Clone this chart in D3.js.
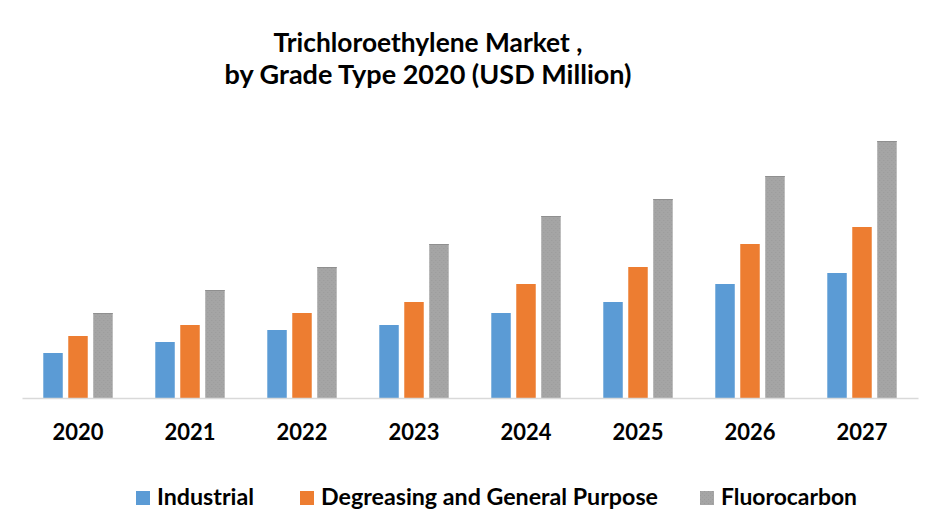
<!DOCTYPE html>
<html>
<head>
<meta charset="utf-8">
<script src="https://cdn.jsdelivr.net/npm/d3@7/dist/d3.min.js"></script>
<style>
  html, body { margin: 0; padding: 0; background: #fff; }
  svg { display: block; }
  text { font-family: Lato, "Open Sans", sans-serif; font-weight: bold; fill: #000; }
</style>
</head>
<body>
<svg id="chart" width="941" height="515"></svg>
<script>
const titleLines = ["Trichloroethylene Market ,", "by Grade Type 2020 (USD Million)"];
const years = ["2020", "2021", "2022", "2023", "2024", "2025", "2026", "2027"];
const seriesNames = ["Industrial", "Degreasing and General Purpose", "Fluorocarbon"];
const industrial = [45, 56, 68, 73, 85, 96, 114, 125];
const degreasing = [62, 73, 85, 96, 114, 131, 154, 171];
const fluorocarbon = [85, 108, 131, 154, 182, 199, 222, 257];
const seriesColors = ["#5b9bd5", "#ed7d31", "url(#grayDots)"];

const seriesValues = [industrial, degreasing, fluorocarbon];
const data = years.map((y, i) => ({ year: y, values: seriesValues.map(s => s[i]) }));

const svg = d3.select("#chart");

// pattern for gray textured bars
const defs = svg.append("defs");
const pat = defs.append("pattern").attr("id", "grayDots")
  .attr("patternUnits", "userSpaceOnUse").attr("width", 4).attr("height", 4);
pat.append("rect").attr("width", 4).attr("height", 4).attr("fill", "#a5a5a5");
pat.append("rect").attr("x", 0).attr("y", 0).attr("width", 1).attr("height", 1).attr("fill", "#9a9a9a");
pat.append("rect").attr("x", 2).attr("y", 2).attr("width", 1).attr("height", 1).attr("fill", "#9d9d9d");

const baseY = 398;
const x0 = d3.scaleBand().domain(years).range([22, 918]).paddingInner(0.38).paddingOuter(0.19);
const x1 = d3.scaleBand().domain(seriesNames).range([0, x0.bandwidth()]).paddingInner(0.22);
const y = d3.scaleLinear().domain([0, 300]).range([baseY, baseY - 300]);

// Title
const titleSizes = [24, 24];
const titleTargets = [309, 407];
const titleBase = [52, 84];
titleLines.forEach((t, i) => {
  const el = svg.append("text").attr("x", 428).attr("y", titleBase[i])
    .attr("text-anchor", "middle").style("font-size", titleSizes[i] + "px").text(t);
  const w = el.node().getComputedTextLength();
  el.style("font-size", (titleSizes[i] * titleTargets[i] / w).toFixed(2) + "px");
});

// Bars
const groups = svg.append("g").selectAll("g").data(data).join("g")
  .attr("transform", d => `translate(${x0(d.year)},0)`);
groups.selectAll("rect").data(d => d.values.map((v, k) => ({ k, v }))).join("rect")
  .attr("x", d => x1(seriesNames[d.k]))
  .attr("width", x1.bandwidth())
  .attr("y", d => y(d.v))
  .attr("height", d => baseY - y(d.v))
  .attr("fill", d => seriesColors[d.k]);
// darker top edge on gray bars
groups.selectAll("line.top").data(d => [d.values[2]]).join("line")
  .attr("class", "top")
  .attr("x1", x1(seriesNames[2])).attr("x2", x1(seriesNames[2]) + x1.bandwidth())
  .attr("y1", d => y(d) + 0.5).attr("y2", d => y(d) + 0.5)
  .attr("stroke", "#8f8f8f").attr("stroke-width", 1);

// X axis
const xAxis = d3.axisBottom(x0).tickSize(0).tickPadding(26);
const ax = svg.append("g").attr("transform", `translate(0,${baseY})`).call(xAxis);
ax.select(".domain").attr("stroke", "#d9d9d9").attr("stroke-width", 1.3);
ax.selectAll("text").style("font-size", "22px")
  .style("font-family", "Lato, 'Open Sans', sans-serif").style("font-weight", "bold").attr("fill", "#000");

// Legend
const legendX = [136, 300, 700];
const legendY = 491;
const leg = svg.append("g").selectAll("g").data(seriesNames).join("g")
  .attr("transform", (d, i) => `translate(${legendX[i]},${legendY})`);
leg.append("rect").attr("width", 14).attr("height", 14).attr("fill", (d, i) => seriesColors[i]);
const legTargets = [97, 337, 136];
leg.append("text").attr("x", 21).attr("y", 14).style("font-size", "22px").text(d => d)
  .each(function(d, i) {
    const w = this.getComputedTextLength();
    d3.select(this).style("font-size", (22 * legTargets[i] / w).toFixed(2) + "px");
  });
</script>
</body>
</html>
